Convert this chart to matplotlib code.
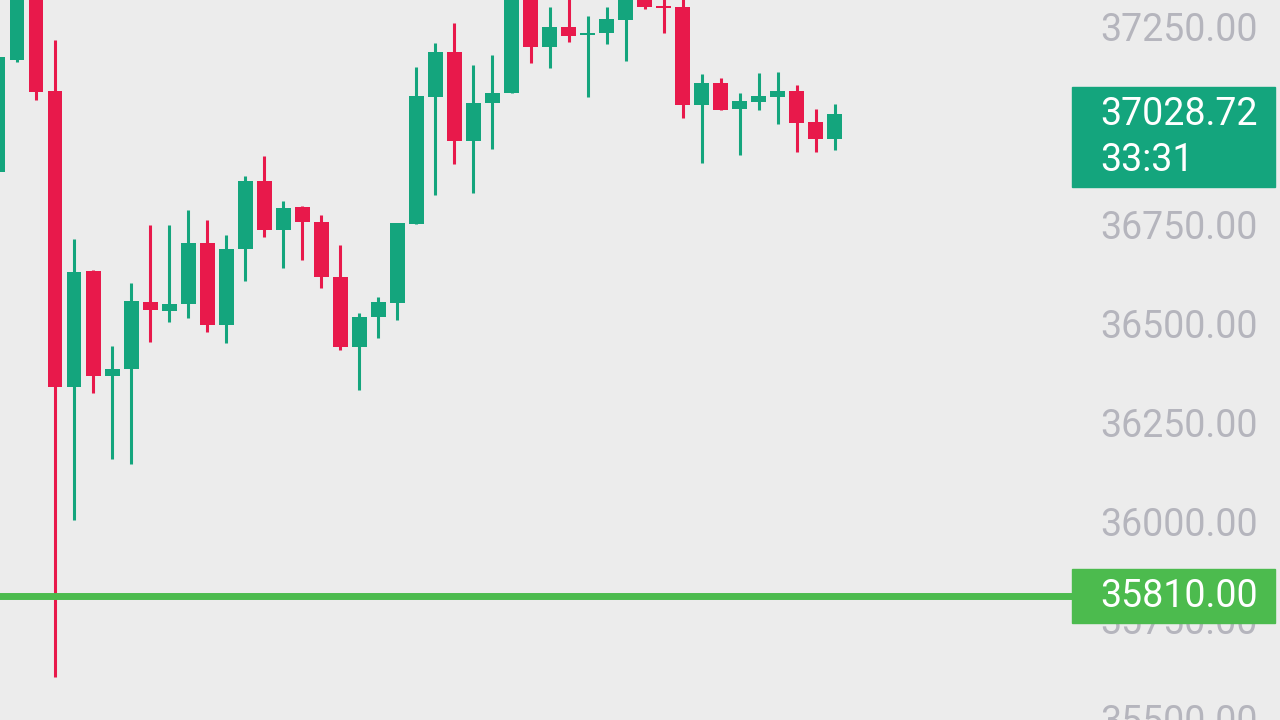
import matplotlib.pyplot as plt
from matplotlib.patches import Rectangle
from matplotlib.transforms import blended_transform_factory

# Candle data (prices), oldest first
opens = [36883, 37166, 37340, 37088, 36339, 36632, 36367, 36384, 36554, 36531,
         36549, 36703, 36496, 36688, 36860, 36736, 36794, 36756, 36617, 36440,
         36516, 36551, 36751, 37073, 37186, 36961, 37057, 37083, 37350, 37199,
         37250, 37229, 37235, 37267, 37330, 37303, 37300, 37052, 37108, 37042,
         37060, 37073, 37088, 37009, 36966]
highs = [37180, 37380, 37360, 37217, 36713, 36636, 36443, 36602, 36749, 36749,
         36787, 36761, 36723, 36873, 36923, 36809, 36797, 36774, 36698, 36526,
         36567, 36754, 37148, 37209, 37260, 37154, 37179, 37380, 37370, 37300,
         37330, 37278, 37300, 37340, 37345, 37340, 37330, 37131, 37121, 37083,
         37133, 37136, 37103, 37042, 37055]
lows = [36820, 37161, 37065, 35605, 36002, 36324, 36157, 36144, 36453, 36503,
        36513, 36478, 36450, 36607, 36718, 36640, 36660, 36589, 36433, 36331,
        36463, 36508, 36751, 36825, 36903, 36830, 36941, 37083, 37159, 37146,
        37212, 37073, 37207, 37164, 37295, 37235, 37019, 36906, 37040, 36926,
        37040, 37004, 36933, 36933, 36939]
closes = [37174, 37360, 37085, 36339, 36630, 36367, 36384, 36556, 36534, 36549,
          36703, 36496, 36688, 36860, 36736, 36792, 36756, 36617, 36440, 36516,
          36554, 36754, 37075, 37186, 36961, 37057, 37083, 37360, 37199, 37250,
          37227, 37235, 37270, 37330, 37300, 37298, 37052, 37108, 37040, 37062,
          37075, 37088, 37007, 36966, 37028.72]

last_price = 37028.72
countdown = "33:31"
level_price = 35810.00
# 37000 sits behind the last-price box, so it is left out
tick_values = [35500, 35750, 36000, 36250, 36500, 36750, 37250]

up_color = '#14a57d'
down_color = '#e8194b'
level_color = '#4cbb4e'
bg = '#ececec'

fig = plt.figure(figsize=(12.8, 7.2), dpi=100, facecolor=bg)
ax = fig.add_axes([0, 0, 1072 / 1280, 1])
ax.set_facecolor(bg)

x = list(range(len(opens)))
colors = [up_color if c >= o else down_color for o, c in zip(opens, closes)]

# wicks and bodies
ax.vlines(x, lows, highs, colors=colors, linewidth=2.2, zorder=2)
bottoms = [min(o, c) for o, c in zip(opens, closes)]
heights = [max(abs(c - o), 3) for o, c in zip(opens, closes)]
ax.bar(x, heights, bottom=bottoms, width=0.78, color=colors, zorder=3)

ymin, ymax = 35496.7, 37318.3
ax.set_xlim(0.105, 56.47)
ax.set_ylim(ymin, ymax)
per_px = (ymax - ymin) / 720

# horizontal level line
ax.axhline(level_price, color=level_color, linewidth=5, zorder=4)

# price scale on the right
ax.yaxis.tick_right()
ax.set_yticks(tick_values)
ax.set_yticklabels([f"{v:.2f}" for v in tick_values])
ax.tick_params(axis='y', length=0, pad=20, labelsize=27, labelcolor='#b5b5bd')
for lbl in ax.get_yticklabels():
    lbl.set_fontfamily('Roboto')
ax.set_xticks([])
for s in ax.spines.values():
    s.set_visible(False)

tr = blended_transform_factory(fig.transFigure, ax.transData)
x0 = 1072 / 1280
bw = 203 / 1280

# current price box
ax.add_patch(Rectangle((x0, last_price - 73 * per_px), bw, 100 * per_px,
                       transform=tr, color=up_color, clip_on=False, zorder=6))
ax.text(1100 / 1280, last_price, f"{last_price:.2f}", transform=tr,
        color='white', fontsize=27, family='Roboto', va='center',
        clip_on=False, zorder=7)
ax.text(1100 / 1280, last_price - 46 * per_px, countdown, transform=tr,
        color='white', fontsize=27, family='Roboto', va='center',
        clip_on=False, zorder=7)

# level box
ax.add_patch(Rectangle((x0, level_price - 27 * per_px), bw, 54 * per_px,
                       transform=tr, color=level_color, clip_on=False, zorder=6))
ax.text(1100 / 1280, level_price, f"{level_price:.2f}", transform=tr,
        color='white', fontsize=27, family='Roboto', va='center',
        clip_on=False, zorder=7)

fig.savefig('out.png', dpi=100, facecolor=bg)
